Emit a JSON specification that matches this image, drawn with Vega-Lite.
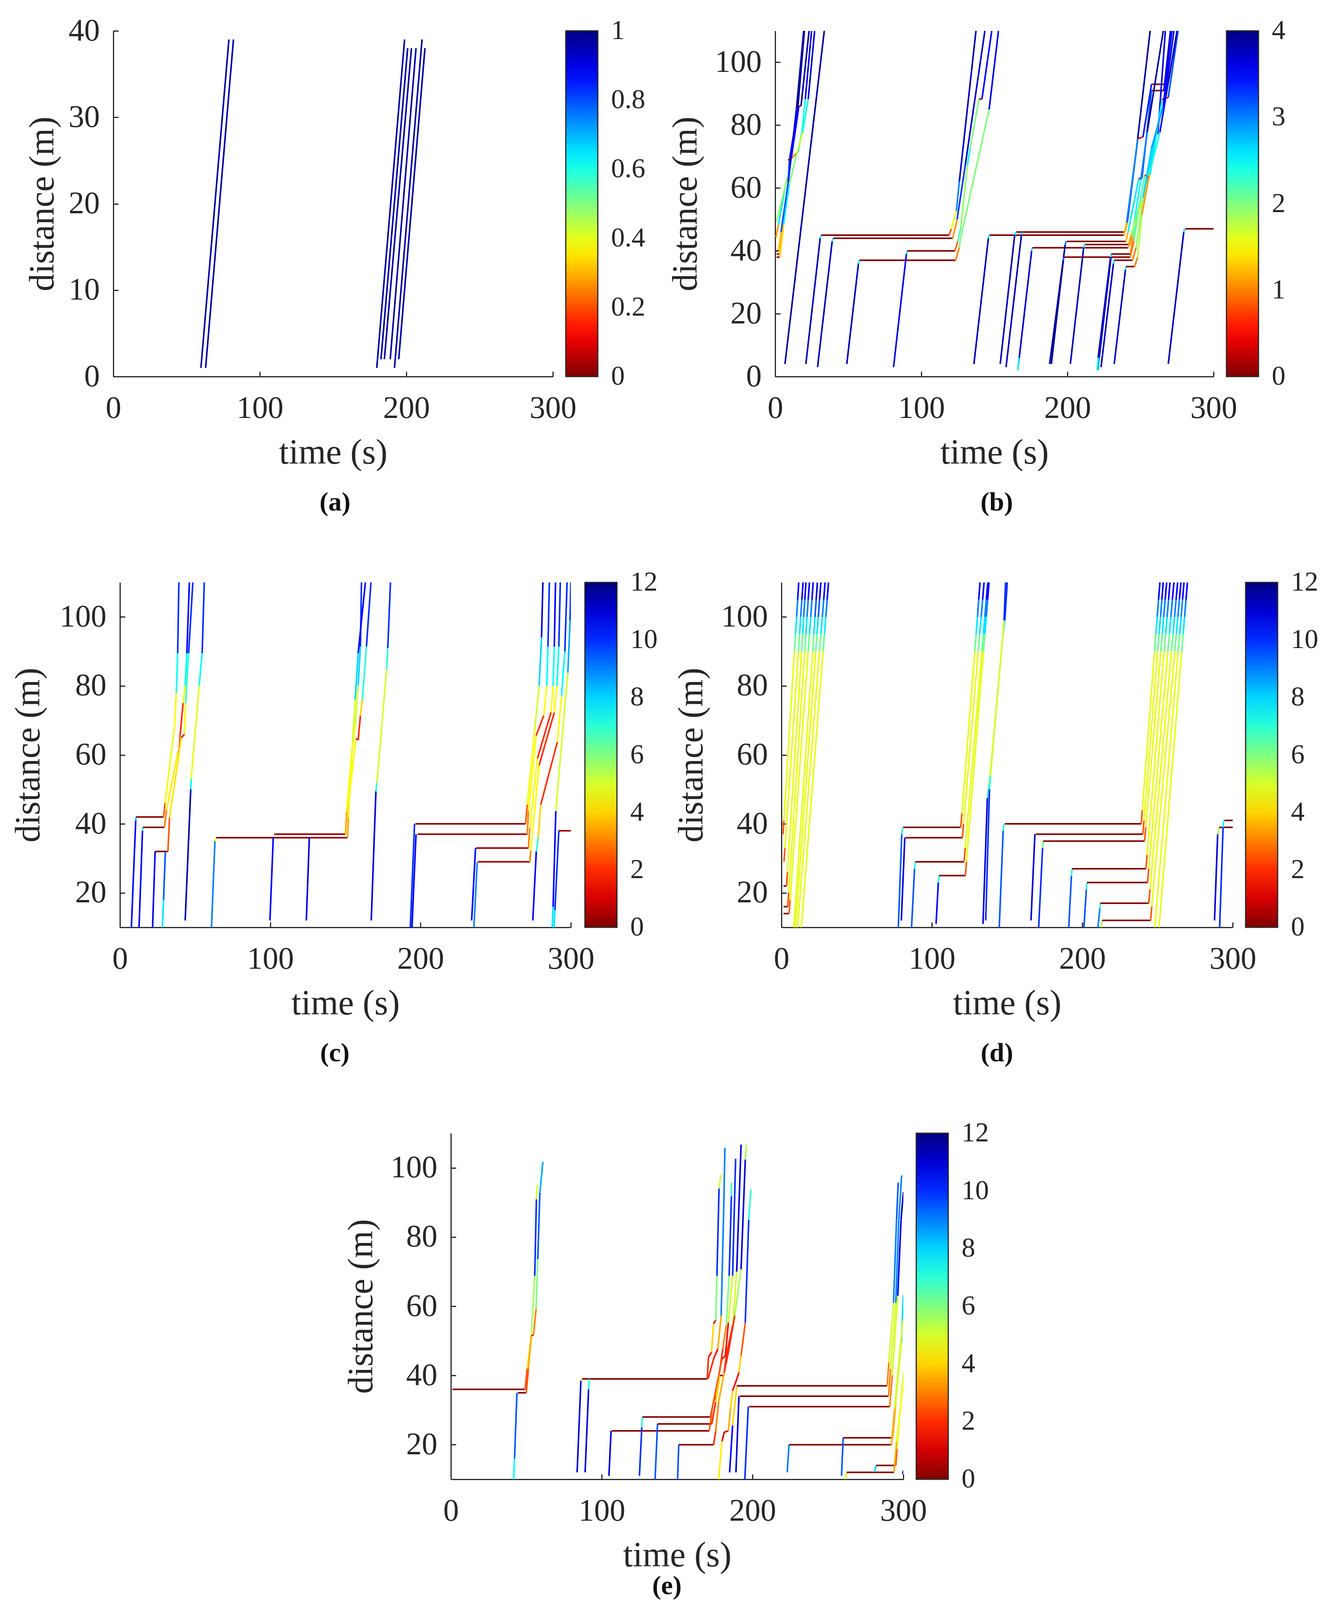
{"$schema":"https://vega.github.io/schema/vega-lite/v6.json","background":"white","padding":{"left":0,"top":39,"right":0,"bottom":0},"spacing":170,"resolve":{"scale":{"color":"independent"},"legend":{"color":"independent"}},
"config":{"view":{"stroke":null},"axis":{"grid":false,"domainColor":"#262626","domainWidth":3,"tickColor":"#262626","tickWidth":3,"tickSize":-13,"labelFont":"Liberation Serif","labelFontSize":80,"labelColor":"#262626","titleFont":"Liberation Serif","titleFontSize":90,"titleFontWeight":"normal","titleColor":"#262626","labelFlush":false,"labelOverlap":false},"title":{"font":"Liberation Serif","fontSize":68,"fontWeight":"bold","color":"#111111","orient":"bottom","anchor":"middle"},"legend":{"labelFont":"Liberation Serif","labelFontSize":70,"labelColor":"#262626","gradientStrokeColor":"#262626","gradientStrokeWidth":3,"gradientThickness":82,"orient":"none","title":null,"labelOverlap":false,"direction":"vertical"}},
"datasets":{
"a":[{"t0":59.8,"d0":1,"t1":78.9,"d1":39,"v":0.97},{"t0":63,"d0":1,"t1":82,"d1":39,"v":0.97},{"t0":179.8,"d0":1,"t1":198.8,"d1":39,"v":0.97},{"t0":182.7,"d0":2,"t1":200.9,"d1":38,"v":0.97},{"t0":185,"d0":2,"t1":203.5,"d1":38,"v":0.97},{"t0":189,"d0":2,"t1":206.6,"d1":38,"v":0.97},{"t0":191.9,"d0":1,"t1":210.7,"d1":39,"v":0.97},{"t0":194.8,"d0":2,"t1":212.7,"d1":38,"v":0.97}],
"b":[{"t0":6.7,"d0":4,"t1":33.6,"d1":110,"v":3.9},
{"t0":0.6,"d0":44.3,"t1":2.3,"d1":48.5,"v":1.1},{"t0":2.3,"d0":48.5,"t1":7.5,"d1":62,"v":2.6},{"t0":7.5,"d0":62,"t1":8.7,"d1":62.6,"v":0.3},{"t0":8.7,"d0":62.6,"t1":9.9,"d1":69.4,"v":3.3},{"t0":9.9,"d0":69.4,"t1":15.4,"d1":85,"v":3.4},{"t0":15.4,"d0":85,"t1":20,"d1":110,"v":3.9},
{"t0":0.9,"d0":49.3,"t1":8.1,"d1":63,"v":1.9},{"t0":8.1,"d0":63,"t1":8.6,"d1":63.1,"v":0.2},{"t0":8.6,"d0":63.1,"t1":11,"d1":69.4,"v":2.6},{"t0":11,"d0":69.4,"t1":16.2,"d1":86,"v":3.5},{"t0":16.2,"d0":86,"t1":17.7,"d1":86.2,"v":0.2},{"t0":17.7,"d0":86.2,"t1":23.2,"d1":110,"v":3.9},
{"t0":1,"d0":39,"t1":2.9,"d1":39,"v":0},{"t0":2.9,"d0":39,"t1":4.6,"d1":46.4,"v":1.4},{"t0":4.6,"d0":46.4,"t1":11,"d1":69.4,"v":2.2},{"t0":11,"d0":69.4,"t1":15.7,"d1":71.5,"v":1},{"t0":15.7,"d0":71.5,"t1":18.3,"d1":77.8,"v":2.6},{"t0":18.3,"d0":77.8,"t1":20.6,"d1":88.3,"v":2.4},{"t0":20.6,"d0":88.3,"t1":24.9,"d1":110,"v":3.6},
{"t0":1,"d0":38,"t1":3.2,"d1":38,"v":0},{"t0":3.2,"d0":38,"t1":5.8,"d1":48.5,"v":1.3},{"t0":5.8,"d0":48.5,"t1":9.6,"d1":61,"v":2.5},{"t0":9.6,"d0":61,"t1":14.8,"d1":71,"v":2},{"t0":14.8,"d0":71,"t1":18.9,"d1":77.8,"v":1.7},{"t0":18.9,"d0":77.8,"t1":22.6,"d1":88.3,"v":2.4},{"t0":22.6,"d0":88.3,"t1":27,"d1":110,"v":3.7},
{"t0":1,"d0":40,"t1":2.4,"d1":40,"v":0},{"t0":2.4,"d0":40,"t1":4,"d1":46,"v":1.2},{"t0":4,"d0":46,"t1":9,"d1":62,"v":3.2},{"t0":9,"d0":62,"t1":14.5,"d1":85,"v":3.6},{"t0":14.5,"d0":85,"t1":19.5,"d1":110,"v":3.9},{"t0":8.7,"d0":69,"t1":10.5,"d1":69,"v":0},
{"t0":21,"d0":4,"t1":30.8,"d1":44,"v":3.8},{"t0":30.8,"d0":44,"t1":31.4,"d1":45,"v":2.5},{"t0":31.4,"d0":45,"t1":119,"d1":45,"v":0},
{"t0":29,"d0":3,"t1":39,"d1":43,"v":3.8},{"t0":39,"d0":43,"t1":39.6,"d1":44,"v":2.5},{"t0":39.6,"d0":44,"t1":121.5,"d1":44,"v":0},
{"t0":49,"d0":4,"t1":57,"d1":36,"v":3.8},{"t0":57,"d0":36,"t1":57.6,"d1":37,"v":2.5},{"t0":57.6,"d0":37,"t1":123.5,"d1":37,"v":0},
{"t0":81,"d0":3,"t1":89.8,"d1":39,"v":3.6},{"t0":89.8,"d0":39,"t1":90.4,"d1":40,"v":2.5},{"t0":90.4,"d0":40,"t1":123,"d1":40,"v":0},
{"t0":119,"d0":45,"t1":120.5,"d1":47,"v":0.8},{"t0":120.5,"d0":47,"t1":124,"d1":52.7,"v":1.6},{"t0":124,"d0":52.7,"t1":126,"d1":62,"v":3},{"t0":126,"d0":62,"t1":137.4,"d1":110,"v":3.8},
{"t0":121.5,"d0":44,"t1":124.5,"d1":50,"v":1.1},{"t0":124.5,"d0":50,"t1":130,"d1":67,"v":3.3},{"t0":130,"d0":67,"t1":143.5,"d1":110,"v":3.7},
{"t0":123,"d0":40,"t1":125,"d1":43,"v":0.9},{"t0":125,"d0":43,"t1":127,"d1":47.4,"v":2.2},{"t0":127,"d0":47.4,"t1":131.6,"d1":67.3,"v":1.9},{"t0":131.6,"d0":67.3,"t1":133.4,"d1":72.6,"v":2.5},{"t0":133.4,"d0":72.6,"t1":139.5,"d1":88.3,"v":2},{"t0":139.5,"d0":88.3,"t1":141.5,"d1":88.3,"v":0.2},{"t0":141.5,"d0":88.3,"t1":148.2,"d1":110,"v":3.5},
{"t0":123.5,"d0":37,"t1":126,"d1":41,"v":1},{"t0":126,"d0":41,"t1":127,"d1":44.3,"v":2},{"t0":127,"d0":44.3,"t1":146.4,"d1":85,"v":2},{"t0":146.4,"d0":85,"t1":152.8,"d1":110,"v":3.6},
{"t0":136,"d0":4,"t1":145.9,"d1":44,"v":3.8},{"t0":145.9,"d0":44,"t1":146.4,"d1":45,"v":2.5},{"t0":146.7,"d0":45,"t1":238.6,"d1":45,"v":0},
{"t0":154,"d0":4,"t1":163.9,"d1":45,"v":3.8},{"t0":163.9,"d0":45,"t1":164.4,"d1":46,"v":2.5},{"t0":165,"d0":46,"t1":239.5,"d1":46,"v":0},
{"t0":158,"d0":3,"t1":168.5,"d1":45,"v":3.8},{"t0":168.5,"d0":45,"t1":169,"d1":46,"v":2.8},
{"t0":166,"d0":2,"t1":175.5,"d1":40,"v":3.7},{"t0":166,"d0":2,"t1":166.8,"d1":6,"v":2.4},{"t0":175.5,"d0":40,"t1":176,"d1":41,"v":2.5},{"t0":176,"d0":41,"t1":241.5,"d1":41,"v":0},
{"t0":187.8,"d0":4,"t1":198.5,"d1":42,"v":3.9},{"t0":198.5,"d0":42,"t1":199,"d1":43,"v":3},{"t0":199.5,"d0":43,"t1":240,"d1":43,"v":0},
{"t0":189,"d0":4,"t1":197.2,"d1":37,"v":3.9},{"t0":197.2,"d0":37,"t1":197.7,"d1":38,"v":3},{"t0":197.7,"d0":38,"t1":243,"d1":38,"v":0},
{"t0":202,"d0":4,"t1":211.1,"d1":41,"v":3.8},{"t0":211.1,"d0":41,"t1":211.6,"d1":42,"v":2.5},{"t0":212,"d0":42,"t1":243,"d1":42,"v":0},
{"t0":220.3,"d0":2,"t1":221,"d1":6,"v":2.3},{"t0":221,"d0":6,"t1":229.5,"d1":38,"v":3.8},{"t0":229.5,"d0":38,"t1":230,"d1":39,"v":2.5},{"t0":230,"d0":39,"t1":243,"d1":39,"v":0},
{"t0":221,"d0":2,"t1":221.8,"d1":6,"v":2.8},{"t0":221.8,"d0":6,"t1":229.8,"d1":38,"v":3.7},
{"t0":223,"d0":3,"t1":231.5,"d1":36,"v":3.8},{"t0":231.5,"d0":36,"t1":232,"d1":37,"v":2.5},{"t0":232,"d0":37,"t1":244.5,"d1":37,"v":0},
{"t0":232,"d0":4,"t1":239.7,"d1":34,"v":3.8},{"t0":239.7,"d0":34,"t1":240,"d1":35,"v":2.5},{"t0":240,"d0":35,"t1":246,"d1":35,"v":0},
{"t0":269,"d0":4,"t1":279.6,"d1":46,"v":3.8},{"t0":279.6,"d0":46,"t1":280.2,"d1":47,"v":2.6},{"t0":280.6,"d0":47,"t1":300,"d1":47,"v":0},
{"t0":239.5,"d0":46,"t1":241,"d1":49,"v":1.2},{"t0":241,"d0":49,"t1":247.3,"d1":72.6,"v":3.2},{"t0":247.3,"d0":72.6,"t1":256.6,"d1":110,"v":3.9},
{"t0":238.6,"d0":45,"t1":240.5,"d1":49,"v":1.2},{"t0":240.5,"d0":49,"t1":248.2,"d1":75.7,"v":3},{"t0":248.2,"d0":75.7,"t1":251.7,"d1":76.2,"v":0.3},{"t0":251.7,"d0":76.2,"t1":257.5,"d1":93,"v":3.4},{"t0":257.5,"d0":93,"t1":266.7,"d1":93,"v":0},{"t0":266.7,"d0":93,"t1":271.5,"d1":110,"v":3.7},
{"t0":240,"d0":43,"t1":241.5,"d1":46,"v":1.2},{"t0":241.5,"d0":46,"t1":248.8,"d1":63,"v":2.6},{"t0":248.8,"d0":63,"t1":251,"d1":63.1,"v":0.3},{"t0":251,"d0":63.1,"t1":257.5,"d1":91,"v":3.2},{"t0":257.5,"d0":91,"t1":266,"d1":91,"v":0},{"t0":266,"d0":91,"t1":270.5,"d1":110,"v":3.7},
{"t0":243,"d0":42,"t1":244.5,"d1":45.5,"v":1.2},{"t0":244.5,"d0":45.5,"t1":250.2,"d1":62.6,"v":2.5},{"t0":250.2,"d0":62.6,"t1":254.6,"d1":77.8,"v":3},{"t0":254.6,"d0":77.8,"t1":265.6,"d1":110,"v":3.9},
{"t0":241.5,"d0":41,"t1":243.5,"d1":45,"v":1.1},{"t0":243.5,"d0":45,"t1":248.8,"d1":53.7,"v":1.8},{"t0":248.8,"d0":53.7,"t1":251,"d1":54.8,"v":0.4},{"t0":251,"d0":54.8,"t1":260.4,"d1":76.8,"v":2.6},{"t0":260.4,"d0":76.8,"t1":261.9,"d1":77.3,"v":0.5},{"t0":261.9,"d0":77.3,"t1":267,"d1":110,"v":3.6},
{"t0":243,"d0":39,"t1":245,"d1":44,"v":1},{"t0":245,"d0":44,"t1":253,"d1":64.2,"v":2.2},{"t0":253,"d0":64.2,"t1":256,"d1":63.1,"v":0.5},{"t0":256,"d0":63.1,"t1":263.3,"d1":84,"v":3},{"t0":263.3,"d0":84,"t1":265.6,"d1":85,"v":0.6},{"t0":265.6,"d0":85,"t1":272.9,"d1":110,"v":3.6},
{"t0":243,"d0":38,"t1":245.5,"d1":43,"v":1},{"t0":245.5,"d0":43,"t1":248.8,"d1":52.7,"v":2},{"t0":248.8,"d0":52.7,"t1":256.6,"d1":64.2,"v":1.6},{"t0":256.6,"d0":64.2,"t1":264.8,"d1":88.3,"v":2.5},{"t0":264.8,"d0":88.3,"t1":269,"d1":88.8,"v":0.4},{"t0":269,"d0":88.8,"t1":275.7,"d1":110,"v":3.2},
{"t0":244.5,"d0":37,"t1":247,"d1":41,"v":1},{"t0":247,"d0":41,"t1":251.7,"d1":56.9,"v":1.9},{"t0":251.7,"d0":56.9,"t1":257.5,"d1":72.6,"v":2.7},{"t0":257.5,"d0":72.6,"t1":265.6,"d1":86.2,"v":2.9},{"t0":265.6,"d0":86.2,"t1":271.4,"d1":110,"v":3.5},
{"t0":246,"d0":35,"t1":248,"d1":38,"v":1},{"t0":248,"d0":38,"t1":251,"d1":51.6,"v":1.8},{"t0":251,"d0":51.6,"t1":256,"d1":64.2,"v":1.1},{"t0":256,"d0":64.2,"t1":263.3,"d1":77.8,"v":2.4},{"t0":263.3,"d0":77.8,"t1":269,"d1":93.5,"v":3.5},{"t0":269,"d0":93.5,"t1":275,"d1":110,"v":3.8}],
"c":[{"t0":7.6,"d0":10,"t1":10.5,"d1":41,"v":10.5},{"t0":10.5,"d0":41,"t1":10.7,"d1":42,"v":8},{"t0":10.7,"d0":42,"t1":29,"d1":42,"v":0},
{"t0":12.7,"d0":10,"t1":15,"d1":38,"v":10.5},{"t0":15,"d0":38,"t1":15.2,"d1":39,"v":7},{"t0":15.2,"d0":39,"t1":29.6,"d1":39,"v":0},
{"t0":21.7,"d0":10,"t1":23.4,"d1":32,"v":10.5},{"t0":23.4,"d0":32,"t1":31.9,"d1":32,"v":0},
{"t0":28.2,"d0":10,"t1":29,"d1":18,"v":7.8},{"t0":29,"d0":18,"t1":30.2,"d1":31.8,"v":9.5},
{"t0":43.4,"d0":12,"t1":47.1,"d1":50,"v":11.5},{"t0":47.1,"d0":50,"t1":47.4,"d1":53,"v":7.5},{"t0":47.4,"d0":53,"t1":52.7,"d1":80,"v":4.8},{"t0":52.7,"d0":80,"t1":54.7,"d1":89.5,"v":7.5},{"t0":54.7,"d0":89.5,"t1":56.1,"d1":110,"v":10},
{"t0":60.9,"d0":10,"t1":63.2,"d1":35,"v":9},{"t0":63.2,"d0":35,"t1":64,"d1":36,"v":4.5},{"t0":64,"d0":36,"t1":151.4,"d1":36,"v":0},
{"t0":99.8,"d0":12,"t1":102,"d1":36,"v":10.5},{"t0":102.6,"d0":37,"t1":150,"d1":37,"v":0.2},{"t0":124,"d0":12,"t1":126,"d1":36,"v":11},
{"t0":167.2,"d0":12,"t1":170.3,"d1":49.4,"v":11},{"t0":170.3,"d0":49.4,"t1":171,"d1":52,"v":7},{"t0":171,"d0":52,"t1":177.4,"d1":84.7,"v":5},{"t0":177.4,"d0":84.7,"t1":178.2,"d1":91,"v":7},{"t0":178.2,"d0":91,"t1":180,"d1":110,"v":10},
{"t0":193.2,"d0":10,"t1":196,"d1":40,"v":10},{"t0":196.6,"d0":40,"t1":269.9,"d1":40,"v":0.2},
{"t0":194.3,"d0":10,"t1":197,"d1":37,"v":10.5},{"t0":198,"d0":37,"t1":271,"d1":37,"v":0.2},
{"t0":234,"d0":12,"t1":236.6,"d1":33,"v":10.5},{"t0":237,"d0":33,"t1":271.8,"d1":33,"v":0.4},
{"t0":235.5,"d0":10,"t1":237.7,"d1":28.8,"v":9},{"t0":238,"d0":29,"t1":272.7,"d1":29,"v":0.5},
{"t0":274.7,"d0":12,"t1":277,"d1":32,"v":10.5},{"t0":277,"d0":32,"t1":278.3,"d1":36,"v":7},{"t0":278.3,"d0":36,"t1":280,"d1":45.6,"v":4},{"t0":280,"d0":45.6,"t1":291,"d1":63.7,"v":2},{"t0":291,"d0":63.7,"t1":293.8,"d1":77,"v":4.5},{"t0":293.8,"d0":77,"t1":296,"d1":90,"v":7.5},{"t0":296,"d0":90,"t1":297.5,"d1":110,"v":10},
{"t0":287.6,"d0":10,"t1":288.2,"d1":16,"v":7.8},{"t0":288.2,"d0":16,"t1":290,"d1":43.7,"v":10.5},{"t0":290,"d0":43.7,"t1":292.4,"d1":56,"v":5},{"t0":292.4,"d0":56,"t1":298,"d1":83.8,"v":5},{"t0":298,"d0":83.8,"t1":299.5,"d1":99,"v":8.5},{"t0":299.5,"d0":99,"t1":300,"d1":110,"v":10},
{"t0":288.8,"d0":10,"t1":289.4,"d1":15,"v":7.8},{"t0":289.4,"d0":15,"t1":292,"d1":38,"v":10},{"t0":292,"d0":38,"t1":300,"d1":38,"v":0.4},
{"t0":29,"d0":42,"t1":30,"d1":46,"v":2.5},{"t0":30,"d0":46,"t1":36.4,"d1":68.5,"v":4.6},{"t0":36.4,"d0":68.5,"t1":37.5,"d1":78,"v":4.5},{"t0":37.5,"d0":78,"t1":38.4,"d1":89.5,"v":7.5},{"t0":38.4,"d0":89.5,"t1":39.2,"d1":110,"v":10},
{"t0":29.6,"d0":39,"t1":31,"d1":44,"v":3},{"t0":31,"d0":44,"t1":38.6,"d1":60.9,"v":4.3},{"t0":38.6,"d0":60.9,"t1":39.4,"d1":60.9,"v":0.5},{"t0":39.4,"d0":60.9,"t1":40,"d1":65.6,"v":2.5},{"t0":40,"d0":65.6,"t1":42,"d1":75,"v":2},{"t0":42,"d0":75,"t1":43.4,"d1":80,"v":4.5},{"t0":43.4,"d0":80,"t1":44.5,"d1":89.5,"v":7.5},{"t0":44.5,"d0":89.5,"t1":46.2,"d1":110,"v":10.5},
{"t0":31.9,"d0":32,"t1":33,"d1":41.8,"v":2.5},{"t0":33,"d0":41.8,"t1":40.9,"d1":65,"v":4.2},{"t0":40.9,"d0":65,"t1":42.9,"d1":66,"v":1.5},{"t0":42.9,"d0":66,"t1":43.7,"d1":75,"v":4.5},{"t0":43.7,"d0":75,"t1":45.7,"d1":89.5,"v":7},{"t0":45.7,"d0":89.5,"t1":48.5,"d1":110,"v":10},
{"t0":151.4,"d0":36,"t1":152.2,"d1":46.5,"v":3.5},{"t0":152.2,"d0":46.5,"t1":157,"d1":64.7,"v":4.6},{"t0":157,"d0":64.7,"t1":158.5,"d1":64.3,"v":1.5},{"t0":158.5,"d0":64.3,"t1":160,"d1":71.4,"v":2},{"t0":160,"d0":71.4,"t1":161.3,"d1":76,"v":4},{"t0":161.3,"d0":76,"t1":164,"d1":91.4,"v":7},{"t0":164,"d0":91.4,"t1":167,"d1":110,"v":10},
{"t0":150,"d0":37,"t1":150.9,"d1":43.7,"v":3.5},{"t0":150.9,"d0":43.7,"t1":154.3,"d1":60.9,"v":4.6},{"t0":154.3,"d0":60.9,"t1":156.5,"d1":68.5,"v":4.5},{"t0":156.5,"d0":68.5,"t1":158.5,"d1":80,"v":5},{"t0":158.5,"d0":80,"t1":160,"d1":91.4,"v":8},{"t0":160,"d0":91.4,"t1":160.7,"d1":110,"v":10},
{"t0":151.4,"d0":36,"t1":152,"d1":41.8,"v":3.5},{"t0":152,"d0":41.8,"t1":154.8,"d1":63.7,"v":4.6},{"t0":154.8,"d0":63.7,"t1":156.5,"d1":76,"v":5},{"t0":156.5,"d0":76,"t1":158.5,"d1":89.5,"v":8},{"t0":158.5,"d0":89.5,"t1":163.3,"d1":110,"v":10.5},
{"t0":269.9,"d0":40,"t1":271,"d1":45.6,"v":2.5},{"t0":271,"d0":45.6,"t1":276,"d1":67.5,"v":4.6},{"t0":276,"d0":67.5,"t1":278.9,"d1":80,"v":5},{"t0":278.9,"d0":80,"t1":280.5,"d1":94,"v":8},{"t0":280.5,"d0":94,"t1":281.4,"d1":110,"v":11},
{"t0":271,"d0":37,"t1":271.8,"d1":43.7,"v":3},{"t0":271.8,"d0":43.7,"t1":276.9,"d1":65.6,"v":4.6},{"t0":276.9,"d0":65.6,"t1":282,"d1":71.4,"v":2},{"t0":282,"d0":71.4,"t1":284,"d1":80,"v":4.5},{"t0":284,"d0":80,"t1":284.8,"d1":91.4,"v":7.5},{"t0":284.8,"d0":91.4,"t1":285.7,"d1":110,"v":10},
{"t0":271.8,"d0":33,"t1":272.7,"d1":38.9,"v":3},{"t0":272.7,"d0":38.9,"t1":277.8,"d1":59,"v":4.5},{"t0":277.8,"d0":59,"t1":286.8,"d1":72.3,"v":2},{"t0":286.8,"d0":72.3,"t1":288.2,"d1":80,"v":4.5},{"t0":288.2,"d0":80,"t1":289,"d1":91.4,"v":7.5},{"t0":289,"d0":91.4,"t1":289.8,"d1":110,"v":10.5},
{"t0":272.7,"d0":29,"t1":273.3,"d1":32.2,"v":3},{"t0":273.3,"d0":32.2,"t1":278.9,"d1":57,"v":4.5},{"t0":278.9,"d0":57,"t1":289,"d1":72.3,"v":2},{"t0":289,"d0":72.3,"t1":290.8,"d1":80,"v":4.5},{"t0":290.8,"d0":80,"t1":292,"d1":91.4,"v":7.5},{"t0":292,"d0":91.4,"t1":293,"d1":110,"v":10}],
"d":[{"t0":1.1,"d0":37,"t1":1.6,"d1":41,"v":2.5},{"t0":1.6,"d0":41,"t1":8.6,"d1":90,"v":4.8},{"t0":8.6,"d0":90,"t1":9.35,"d1":95,"v":6.2},{"t0":9.35,"d0":95,"t1":10.1,"d1":100,"v":7.8},{"t0":10.1,"d0":100,"t1":10.8,"d1":105,"v":9},{"t0":10.8,"d0":105,"t1":11.5,"d1":110,"v":10.5},
{"t0":1.7,"d0":29,"t1":2.3,"d1":33,"v":2.5},{"t0":2.3,"d0":33,"t1":11.3,"d1":90,"v":4.8},{"t0":11.3,"d0":90,"t1":12.05,"d1":95,"v":6.2},{"t0":12.05,"d0":95,"t1":12.8,"d1":100,"v":7.8},{"t0":12.8,"d0":100,"t1":13.6,"d1":105,"v":9},{"t0":13.6,"d0":105,"t1":14.4,"d1":110,"v":10.5},
{"t0":1.4,"d0":22,"t1":3.4,"d1":22,"v":0},{"t0":3.4,"d0":22,"t1":4,"d1":26,"v":2.5},{"t0":4,"d0":26,"t1":13.4,"d1":90,"v":4.8},{"t0":13.4,"d0":90,"t1":14.1,"d1":95,"v":6.2},{"t0":14.1,"d0":95,"t1":14.8,"d1":100,"v":7.8},{"t0":14.8,"d0":100,"t1":15.55,"d1":105,"v":9},{"t0":15.55,"d0":105,"t1":16.3,"d1":110,"v":10.5},
{"t0":1.4,"d0":16,"t1":4.2,"d1":16,"v":0},{"t0":4.2,"d0":16,"t1":4.8,"d1":20,"v":2.5},{"t0":4.8,"d0":20,"t1":15.5,"d1":90,"v":4.8},{"t0":15.5,"d0":90,"t1":16.25,"d1":95,"v":6.2},{"t0":16.25,"d0":95,"t1":17,"d1":100,"v":7.8},{"t0":17,"d0":100,"t1":17.8,"d1":105,"v":9},{"t0":17.8,"d0":105,"t1":18.6,"d1":110,"v":10.5},
{"t0":1.4,"d0":14,"t1":5.1,"d1":14,"v":0},{"t0":5.1,"d0":14,"t1":5.8,"d1":18,"v":2.5},{"t0":5.8,"d0":18,"t1":17.8,"d1":90,"v":4.8},{"t0":17.8,"d0":90,"t1":18.65,"d1":95,"v":6.2},{"t0":18.65,"d0":95,"t1":19.5,"d1":100,"v":7.8},{"t0":19.5,"d0":100,"t1":20.3,"d1":105,"v":9},{"t0":20.3,"d0":105,"t1":21.1,"d1":110,"v":10.5},
{"t0":8.2,"d0":10,"t1":20.8,"d1":90,"v":4.8},{"t0":20.8,"d0":90,"t1":21.55,"d1":95,"v":6.2},{"t0":21.55,"d0":95,"t1":22.3,"d1":100,"v":7.8},{"t0":22.3,"d0":100,"t1":23.1,"d1":105,"v":9.5},{"t0":23.1,"d0":105,"t1":23.9,"d1":110,"v":11},
{"t0":9.3,"d0":10,"t1":22.8,"d1":90,"v":4.8},{"t0":22.8,"d0":90,"t1":23.65,"d1":95,"v":6.2},{"t0":23.65,"d0":95,"t1":24.5,"d1":100,"v":7.8},{"t0":24.5,"d0":100,"t1":25.35,"d1":105,"v":9.5},{"t0":25.35,"d0":105,"t1":26.2,"d1":110,"v":11},
{"t0":10.7,"d0":10,"t1":25.3,"d1":90,"v":4.8},{"t0":25.3,"d0":90,"t1":26.25,"d1":95,"v":6.2},{"t0":26.25,"d0":95,"t1":27.2,"d1":100,"v":7.8},{"t0":27.2,"d0":100,"t1":28.1,"d1":105,"v":9},{"t0":28.1,"d0":105,"t1":29,"d1":110,"v":10.5},
{"t0":13.2,"d0":10,"t1":27.7,"d1":90,"v":4.8},{"t0":27.7,"d0":90,"t1":28.6,"d1":95,"v":6.2},{"t0":28.6,"d0":95,"t1":29.5,"d1":100,"v":7.8},{"t0":29.5,"d0":100,"t1":30.4,"d1":105,"v":9},{"t0":30.4,"d0":105,"t1":31.3,"d1":110,"v":10.5},
{"t0":77.7,"d0":10,"t1":80,"d1":37,"v":9.5},{"t0":80,"d0":37,"t1":80.6,"d1":39,"v":7},{"t0":81,"d0":39,"t1":119.2,"d1":39,"v":0},
{"t0":79.7,"d0":12,"t1":82,"d1":36,"v":11},{"t0":82.5,"d0":36,"t1":120.3,"d1":36,"v":0},
{"t0":86.5,"d0":10,"t1":88.5,"d1":27,"v":9.5},{"t0":88.5,"d0":27,"t1":89,"d1":29,"v":7},{"t0":89,"d0":29,"t1":121.4,"d1":29,"v":0},
{"t0":102.8,"d0":11,"t1":104.3,"d1":23,"v":10.5},{"t0":104.3,"d0":23,"t1":104.8,"d1":25,"v":7},{"t0":104.8,"d0":25,"t1":122.3,"d1":25,"v":0},
{"t0":134,"d0":11,"t1":136.9,"d1":47.5,"v":11},{"t0":136.9,"d0":47.5,"t1":138.3,"d1":52,"v":7},{"t0":138.3,"d0":52,"t1":147.3,"d1":95,"v":5.2},{"t0":147.3,"d0":95,"t1":148.5,"d1":99,"v":8},{"t0":148.5,"d0":99,"t1":150.1,"d1":110,"v":10},
{"t0":135.8,"d0":12,"t1":138.3,"d1":50,"v":10},{"t0":138.3,"d0":50,"t1":139,"d1":54,"v":7},{"t0":139,"d0":54,"t1":148,"d1":99,"v":5},{"t0":148,"d0":99,"t1":149,"d1":110,"v":10},
{"t0":144.8,"d0":10,"t1":147.4,"d1":38,"v":9.5},{"t0":147.4,"d0":38,"t1":147.9,"d1":40,"v":7},{"t0":148.5,"d0":40,"t1":239.2,"d1":40,"v":0},
{"t0":165.9,"d0":12,"t1":168.5,"d1":37,"v":11},{"t0":169,"d0":37,"t1":240.3,"d1":37,"v":0},
{"t0":171,"d0":10,"t1":173.6,"d1":33,"v":10},{"t0":173.6,"d0":33,"t1":174,"d1":35,"v":6},{"t0":174,"d0":35,"t1":241.4,"d1":35,"v":0},
{"t0":191,"d0":10,"t1":192.8,"d1":25,"v":9.5},{"t0":192.8,"d0":25,"t1":193.2,"d1":27,"v":7},{"t0":193.2,"d0":27,"t1":242.3,"d1":27,"v":0},
{"t0":201.1,"d0":10,"t1":202.7,"d1":21,"v":9.5},{"t0":202.7,"d0":21,"t1":203.1,"d1":23,"v":7},{"t0":203.1,"d0":23,"t1":243.4,"d1":23,"v":0},
{"t0":210.4,"d0":10,"t1":211.7,"d1":15.5,"v":9},{"t0":211.7,"d0":15.5,"t1":212,"d1":17,"v":7},{"t0":212,"d0":17,"t1":244.2,"d1":17,"v":0},
{"t0":212.7,"d0":10,"t1":213.2,"d1":12,"v":5.5},{"t0":213.2,"d0":12,"t1":245.4,"d1":12,"v":0},
{"t0":287.9,"d0":12,"t1":290,"d1":37,"v":11},{"t0":290,"d0":37,"t1":291,"d1":39,"v":5.5},{"t0":291,"d0":39,"t1":300,"d1":39,"v":0},
{"t0":291.3,"d0":10,"t1":293.6,"d1":39,"v":10},{"t0":293.6,"d0":39,"t1":294,"d1":41,"v":7.5},{"t0":294.5,"d0":41,"t1":300,"d1":41,"v":0},
{"t0":119.2,"d0":39,"t1":120,"d1":43,"v":2.5},{"t0":120,"d0":43,"t1":128.5,"d1":90,"v":4.8},{"t0":128.5,"d0":90,"t1":129.4,"d1":95,"v":6.2},{"t0":129.4,"d0":95,"t1":130.3,"d1":100,"v":7.8},{"t0":130.3,"d0":100,"t1":131.15,"d1":105,"v":9},{"t0":131.15,"d0":105,"t1":132,"d1":110,"v":10.5},
{"t0":120.3,"d0":36,"t1":121.1,"d1":40,"v":2.5},{"t0":121.1,"d0":40,"t1":130.8,"d1":90,"v":4.8},{"t0":130.8,"d0":90,"t1":131.8,"d1":95,"v":6.2},{"t0":131.8,"d0":95,"t1":132.8,"d1":100,"v":7.8},{"t0":132.8,"d0":100,"t1":133.75,"d1":105,"v":9},{"t0":133.75,"d0":105,"t1":134.7,"d1":110,"v":10.5},
{"t0":121.4,"d0":29,"t1":122.2,"d1":33,"v":2.5},{"t0":122.2,"d0":33,"t1":133.3,"d1":90,"v":4.8},{"t0":133.3,"d0":90,"t1":134.25,"d1":95,"v":6.2},{"t0":134.25,"d0":95,"t1":135.2,"d1":100,"v":7.8},{"t0":135.2,"d0":100,"t1":136.2,"d1":105,"v":9},{"t0":136.2,"d0":105,"t1":137.2,"d1":110,"v":10.5},
{"t0":122.3,"d0":25,"t1":123,"d1":29,"v":2.5},{"t0":123,"d0":29,"t1":134.3,"d1":90,"v":4.8},{"t0":134.3,"d0":90,"t1":135.25,"d1":95,"v":6.2},{"t0":135.25,"d0":95,"t1":136.2,"d1":100,"v":7.8},{"t0":136.2,"d0":100,"t1":137.1,"d1":105,"v":9},{"t0":137.1,"d0":105,"t1":138,"d1":110,"v":10.5},
{"t0":239.2,"d0":40,"t1":239.9,"d1":44,"v":2.5},{"t0":239.9,"d0":44,"t1":248.05,"d1":90,"v":4.8},{"t0":248.05,"d0":90,"t1":248.9,"d1":95,"v":6.2},{"t0":248.9,"d0":95,"t1":249.8,"d1":100,"v":7.8},{"t0":249.8,"d0":100,"t1":250.7,"d1":105,"v":9},{"t0":250.7,"d0":105,"t1":251.6,"d1":110,"v":10.5},
{"t0":240.3,"d0":37,"t1":241,"d1":41,"v":2.5},{"t0":241,"d0":41,"t1":250.1,"d1":90,"v":4.8},{"t0":250.1,"d0":90,"t1":251.05,"d1":95,"v":6.2},{"t0":251.05,"d0":95,"t1":252,"d1":100,"v":7.8},{"t0":252,"d0":100,"t1":252.9,"d1":105,"v":9},{"t0":252.9,"d0":105,"t1":253.8,"d1":110,"v":10.5},
{"t0":241.4,"d0":35,"t1":242.2,"d1":39,"v":2.5},{"t0":242.2,"d0":39,"t1":252.2,"d1":90,"v":4.8},{"t0":252.2,"d0":90,"t1":253.15,"d1":95,"v":6.2},{"t0":253.15,"d0":95,"t1":254.1,"d1":100,"v":7.8},{"t0":254.1,"d0":100,"t1":255.1,"d1":105,"v":9},{"t0":255.1,"d0":105,"t1":256.1,"d1":110,"v":10.5},
{"t0":242.3,"d0":27,"t1":243.1,"d1":31,"v":2.5},{"t0":243.1,"d0":31,"t1":254.4,"d1":90,"v":4.8},{"t0":254.4,"d0":90,"t1":255.4,"d1":95,"v":6.2},{"t0":255.4,"d0":95,"t1":256.4,"d1":100,"v":7.8},{"t0":256.4,"d0":100,"t1":257.35,"d1":105,"v":9},{"t0":257.35,"d0":105,"t1":258.3,"d1":110,"v":10.5},
{"t0":243.4,"d0":23,"t1":244.2,"d1":27,"v":2.5},{"t0":244.2,"d0":27,"t1":256.9,"d1":90,"v":4.8},{"t0":256.9,"d0":90,"t1":257.9,"d1":95,"v":6.2},{"t0":257.9,"d0":95,"t1":258.9,"d1":100,"v":7.8},{"t0":258.9,"d0":100,"t1":259.9,"d1":105,"v":9},{"t0":259.9,"d0":105,"t1":260.9,"d1":110,"v":10.5},
{"t0":244.2,"d0":17,"t1":245,"d1":21,"v":2.5},{"t0":245,"d0":21,"t1":259.3,"d1":90,"v":4.8},{"t0":259.3,"d0":90,"t1":260.3,"d1":95,"v":6.2},{"t0":260.3,"d0":95,"t1":261.3,"d1":100,"v":7.8},{"t0":261.3,"d0":100,"t1":262.35,"d1":105,"v":9},{"t0":262.35,"d0":105,"t1":263.4,"d1":110,"v":10.5},
{"t0":245.4,"d0":12,"t1":246.2,"d1":16,"v":2.5},{"t0":246.2,"d0":16,"t1":261.5,"d1":90,"v":4.8},{"t0":261.5,"d0":90,"t1":262.5,"d1":95,"v":6.2},{"t0":262.5,"d0":95,"t1":263.5,"d1":100,"v":7.8},{"t0":263.5,"d0":100,"t1":264.55,"d1":105,"v":9},{"t0":264.55,"d0":105,"t1":265.6,"d1":110,"v":10.5},
{"t0":248.2,"d0":10,"t1":263.7,"d1":90,"v":4.8},{"t0":263.7,"d0":90,"t1":264.7,"d1":95,"v":6.2},{"t0":264.7,"d0":95,"t1":265.7,"d1":100,"v":7.8},{"t0":265.7,"d0":100,"t1":266.65,"d1":105,"v":9},{"t0":266.65,"d0":105,"t1":267.6,"d1":110,"v":10.5},
{"t0":251,"d0":10,"t1":266.1,"d1":90,"v":4.8},{"t0":266.1,"d0":90,"t1":267.05,"d1":95,"v":6.2},{"t0":267.05,"d0":95,"t1":268,"d1":100,"v":7.8},{"t0":268,"d0":100,"t1":268.95,"d1":105,"v":9},{"t0":268.95,"d0":105,"t1":269.9,"d1":110,"v":10.5}],
"e":[{"t0":1,"d0":36,"t1":49.2,"d1":36,"v":0},{"t0":41.6,"d0":10,"t1":42.2,"d1":16,"v":7.5},{"t0":42.2,"d0":16,"t1":43.8,"d1":35,"v":9.5},{"t0":44.4,"d0":35,"t1":50,"d1":35,"v":0},
{"t0":49.2,"d0":36,"t1":50.6,"d1":42,"v":2.5},{"t0":50.6,"d0":42,"t1":53.4,"d1":52,"v":4.2},{"t0":53.4,"d0":52,"t1":55.6,"d1":68.8,"v":5.5},{"t0":55.6,"d0":68.8,"t1":56.7,"d1":90.9,"v":10},{"t0":56.7,"d0":90.9,"t1":57.3,"d1":95,"v":5},
{"t0":50,"d0":35,"t1":51.4,"d1":42,"v":2.5},{"t0":51.4,"d0":42,"t1":53.4,"d1":51.5,"v":3.5},{"t0":53.4,"d0":51.5,"t1":54.8,"d1":51.7,"v":0.8},{"t0":54.8,"d0":51.7,"t1":56.5,"d1":59.2,"v":3},{"t0":56.5,"d0":59.2,"t1":57.6,"d1":73.6,"v":6},{"t0":57.6,"d0":73.6,"t1":59,"d1":92.8,"v":9.5},{"t0":59,"d0":92.8,"t1":61,"d1":101.7,"v":8.5},
{"t0":83.7,"d0":12,"t1":86.2,"d1":38.5,"v":11},{"t0":86.2,"d0":38.5,"t1":87,"d1":39,"v":5},{"t0":87,"d0":39,"t1":170,"d1":39,"v":0},
{"t0":89,"d0":12,"t1":91.3,"d1":36,"v":11},{"t0":91.3,"d0":36,"t1":91.8,"d1":39,"v":7},
{"t0":104.8,"d0":11,"t1":106.2,"d1":24,"v":11},{"t0":106.7,"d0":24,"t1":171.3,"d1":24,"v":0},
{"t0":125,"d0":11,"t1":126.6,"d1":25,"v":10},{"t0":126.6,"d0":25,"t1":127,"d1":28,"v":7},{"t0":127,"d0":28,"t1":171.9,"d1":28,"v":0},
{"t0":135.4,"d0":10,"t1":137,"d1":26,"v":9.5},{"t0":137,"d0":26,"t1":173,"d1":26,"v":0},
{"t0":150.3,"d0":10,"t1":151.1,"d1":20,"v":9.5},{"t0":151.1,"d0":20,"t1":174.2,"d1":20,"v":0},
{"t0":177.5,"d0":10,"t1":179.8,"d1":21,"v":4.3},
{"t0":184.8,"d0":12,"t1":186.8,"d1":25.6,"v":10.5},{"t0":186.8,"d0":25.6,"t1":189.6,"d1":37,"v":4},{"t0":189.6,"d0":37,"t1":289.3,"d1":37,"v":0},
{"t0":189,"d0":12,"t1":191,"d1":34,"v":11},{"t0":191.6,"d0":34,"t1":290.2,"d1":34,"v":0},
{"t0":194.9,"d0":10,"t1":197.2,"d1":31,"v":10},{"t0":197.8,"d0":31,"t1":291,"d1":31,"v":0},
{"t0":223,"d0":12,"t1":224.2,"d1":20,"v":9},{"t0":224.2,"d0":20,"t1":292.1,"d1":20,"v":0},
{"t0":259,"d0":11,"t1":260.1,"d1":22,"v":9.5},{"t0":260.1,"d0":22,"t1":293,"d1":22,"v":0},
{"t0":261.5,"d0":10,"t1":262.4,"d1":12,"v":5},{"t0":262.4,"d0":12,"t1":293.8,"d1":12,"v":0},
{"t0":280.9,"d0":12,"t1":282,"d1":14,"v":8},{"t0":282,"d0":14,"t1":295,"d1":14,"v":0},{"t0":299.5,"d0":11.5,"t1":300,"d1":12.5,"v":10},
{"t0":170,"d0":39,"t1":170.8,"d1":45.3,"v":2},{"t0":170.8,"d0":45.3,"t1":172.8,"d1":46.7,"v":1.5},{"t0":172.8,"d0":46.7,"t1":174.2,"d1":55,"v":4},{"t0":174.2,"d0":55,"t1":175.6,"d1":56,"v":1},{"t0":175.6,"d0":56,"t1":176.4,"d1":68.8,"v":6},{"t0":176.4,"d0":68.8,"t1":177.8,"d1":94,"v":10},{"t0":177.8,"d0":94,"t1":179,"d1":98,"v":5},
{"t0":170.5,"d0":39,"t1":174.2,"d1":44.8,"v":2},{"t0":174.2,"d0":44.8,"t1":177,"d1":47.7,"v":1.5},{"t0":177,"d0":47.7,"t1":179.2,"d1":57.3,"v":3.5},{"t0":179.2,"d0":57.3,"t1":180.9,"d1":88,"v":9},{"t0":180.9,"d0":88,"t1":181.7,"d1":105.8,"v":9},
{"t0":171.9,"d0":28,"t1":174.2,"d1":32.3,"v":2.5},{"t0":174.2,"d0":32.3,"t1":175.6,"d1":34.2,"v":2},{"t0":175.6,"d0":34.2,"t1":178.4,"d1":41.9,"v":4},{"t0":178.4,"d0":41.9,"t1":180.3,"d1":47.7,"v":2},{"t0":180.3,"d0":47.7,"t1":182.6,"d1":54.4,"v":3},{"t0":182.6,"d0":54.4,"t1":184.5,"d1":68.8,"v":6},{"t0":184.5,"d0":68.8,"t1":186,"d1":91.8,"v":10},{"t0":186,"d0":91.8,"t1":186,"d1":95.7,"v":7},
{"t0":171.3,"d0":24,"t1":173.6,"d1":31.3,"v":2.5},{"t0":173.6,"d0":31.3,"t1":179.8,"d1":44.8,"v":2.5},{"t0":179.8,"d0":44.8,"t1":182,"d1":45.7,"v":1},{"t0":182,"d0":45.7,"t1":184,"d1":55.3,"v":1.5},{"t0":184,"d0":55.3,"t1":186.8,"d1":68.8,"v":5},{"t0":186.8,"d0":68.8,"t1":188.8,"d1":102.6,"v":10},
{"t0":173,"d0":26,"t1":175.6,"d1":32.3,"v":2},{"t0":175.6,"d0":32.3,"t1":178.4,"d1":40,"v":4},{"t0":178.4,"d0":40,"t1":181,"d1":40,"v":0.6},{"t0":181,"d0":40,"t1":182.6,"d1":45.7,"v":2},{"t0":182.6,"d0":45.7,"t1":186.8,"d1":54.4,"v":2},{"t0":186.8,"d0":54.4,"t1":189.5,"d1":70,"v":5},{"t0":189.5,"d0":70,"t1":192.4,"d1":106.7,"v":11},
{"t0":174.2,"d0":20,"t1":175.6,"d1":24,"v":2},{"t0":175.6,"d0":24,"t1":177.5,"d1":32.3,"v":3},{"t0":177.5,"d0":32.3,"t1":181.2,"d1":40.9,"v":3.5},{"t0":181.2,"d0":40.9,"t1":184,"d1":46.7,"v":2},{"t0":184,"d0":46.7,"t1":188.2,"d1":57.3,"v":2},{"t0":188.2,"d0":57.3,"t1":192.4,"d1":70.7,"v":5.5},{"t0":192.4,"d0":70.7,"t1":195.2,"d1":102.4,"v":11},{"t0":195.2,"d0":102.4,"t1":196,"d1":106.7,"v":5.5},
{"t0":179.8,"d0":21,"t1":181.2,"d1":23.6,"v":1},{"t0":181.2,"d0":23.6,"t1":184,"d1":24,"v":1},{"t0":184,"d0":24,"t1":185.4,"d1":30.4,"v":3.5},{"t0":185.4,"d0":30.4,"t1":186.8,"d1":35.6,"v":4},{"t0":186.8,"d0":35.6,"t1":189.6,"d1":39,"v":1.5},{"t0":189.6,"d0":39,"t1":191,"d1":40.9,"v":1.5},{"t0":191,"d0":40.9,"t1":192.4,"d1":45.7,"v":4},{"t0":192.4,"d0":45.7,"t1":195.2,"d1":55.3,"v":2.5},{"t0":195.2,"d0":55.3,"t1":197.5,"d1":85,"v":10},{"t0":197.5,"d0":85,"t1":198.9,"d1":93.8,"v":7},
{"t0":289.3,"d0":37,"t1":290.4,"d1":43.8,"v":3},{"t0":290.4,"d0":43.8,"t1":293.5,"d1":61,"v":5},{"t0":293.5,"d0":61,"t1":295.5,"d1":85,"v":9},{"t0":295.5,"d0":85,"t1":296.6,"d1":95.7,"v":9.5},
{"t0":290.2,"d0":34,"t1":291.6,"d1":41.9,"v":3},{"t0":291.6,"d0":41.9,"t1":295,"d1":61,"v":5},{"t0":295,"d0":61,"t1":297,"d1":85,"v":9},{"t0":297,"d0":85,"t1":298.9,"d1":97.8,"v":9},
{"t0":291,"d0":31,"t1":292.7,"d1":40,"v":3},{"t0":292.7,"d0":40,"t1":296.3,"d1":63,"v":5},{"t0":296.3,"d0":63,"t1":298.5,"d1":85,"v":10.5},{"t0":298.5,"d0":85,"t1":300,"d1":93,"v":11.5},
{"t0":293,"d0":22,"t1":295,"d1":32.3,"v":3.5},{"t0":295,"d0":32.3,"t1":298.7,"d1":49.6,"v":5},{"t0":298.7,"d0":49.6,"t1":300,"d1":63.2,"v":8},
{"t0":292.1,"d0":20,"t1":294.2,"d1":30.4,"v":3.5},{"t0":294.2,"d0":30.4,"t1":297.8,"d1":47.7,"v":5},{"t0":297.8,"d0":47.7,"t1":299.7,"d1":55.9,"v":5},
{"t0":295,"d0":14,"t1":295.8,"d1":18.8,"v":2.5},{"t0":295.8,"d0":18.8,"t1":300,"d1":41,"v":5},
{"t0":293.8,"d0":12,"t1":295.5,"d1":20.8,"v":3.5},{"t0":295.5,"d0":20.8,"t1":300,"d1":38,"v":4.5}]},
"vconcat":[
{"hconcat":[
{"width":290,"height":885,"data":{"values":[]},"mark":"rule","encoding":{}},
{"width":1125,"height":885,"title":{"text":"(a)","offset":49,"dx":5},"data":{"name":"a"},"mark":{"type":"rule","strokeWidth":4,"clip":true},"encoding":{"x":{"field":"t0","type":"quantitative","scale":{"domain":[0,300],"nice":false},"axis":{"title":"time (s)","values":[0,100,200,300],"labelPadding":55,"titlePadding":30}},"x2":{"field":"t1"},"y":{"field":"d0","type":"quantitative","scale":{"domain":[0,40],"nice":false},"axis":{"title":"distance (m)","values":[0,10,20,30,40],"labelPadding":48,"titlePadding":20}},"y2":{"field":"d1"},"color":{"field":"v","type":"quantitative","scale":{"domain":[0,0.125,0.375,0.625,0.875,1],"range":["#800000","#ff0000","#ffff00","#00ffff","#0000ff","#000080"],"interpolate":"rgb"},"legend":{"legendX":1158,"legendY":0,"gradientLength":885,"values":[0,0.2,0.4,0.6,0.8,1],"format":"~g","labelOffset":34,"encoding":{"labels":{"baseline":{"value":"middle"}}}}}}},
{"width":569,"height":885,"data":{"values":[]},"mark":"rule","encoding":{}},
{"width":1122,"height":885,"title":{"text":"(b)","offset":49,"dx":6},"data":{"name":"b"},"mark":{"type":"rule","strokeWidth":4,"clip":true},"encoding":{"x":{"field":"t0","type":"quantitative","scale":{"domain":[0,300],"nice":false},"axis":{"title":"time (s)","values":[0,100,200,300],"labelPadding":55,"titlePadding":30}},"x2":{"field":"t1"},"y":{"field":"d0","type":"quantitative","scale":{"domain":[0,110],"nice":false},"axis":{"title":"distance (m)","values":[0,20,40,60,80,100],"labelPadding":48,"titlePadding":28}},"y2":{"field":"d1"},"color":{"field":"v","type":"quantitative","scale":{"domain":[0,0.5,1.5,2.5,3.5,4],"range":["#800000","#ff0000","#ffff00","#00ffff","#0000ff","#000080"],"interpolate":"rgb"},"legend":{"legendX":1155,"legendY":0,"gradientLength":885,"values":[0,1,2,3,4],"format":"~g","labelOffset":34,"encoding":{"labels":{"baseline":{"value":"middle"}}}}}}}
],"bounds":"flush","spacing":0,"resolve":{"scale":{"color":"independent"},"legend":{"color":"independent"}}},
{"hconcat":[
{"width":307,"height":883,"data":{"values":[]},"mark":"rule","encoding":{}},
{"width":1154,"height":883,"title":{"text":"(c)","offset":49,"dx":-27},"data":{"name":"c"},"mark":{"type":"rule","strokeWidth":4,"clip":true},"encoding":{"x":{"field":"t0","type":"quantitative","scale":{"domain":[0,300],"nice":false},"axis":{"title":"time (s)","values":[0,100,200,300],"labelPadding":55,"titlePadding":30}},"x2":{"field":"t1"},"y":{"field":"d0","type":"quantitative","scale":{"domain":[10,110],"nice":false},"axis":{"title":"distance (m)","values":[20,40,60,80,100],"labelPadding":48,"titlePadding":33}},"y2":{"field":"d1"},"color":{"field":"v","type":"quantitative","scale":{"domain":[0,1.5,4.5,7.5,10.5,12],"range":["#800000","#ff0000","#ffff00","#00ffff","#0000ff","#000080"],"interpolate":"rgb"},"legend":{"legendX":1190,"legendY":0,"gradientLength":883,"values":[0,2,4,6,8,10,12],"format":"~g","labelOffset":34,"encoding":{"labels":{"baseline":{"value":"middle"}}}}}}},
{"width":539,"height":883,"data":{"values":[]},"mark":"rule","encoding":{}},
{"width":1155,"height":883,"title":{"text":"(d)","offset":49,"dx":-26},"data":{"name":"d"},"mark":{"type":"rule","strokeWidth":4,"clip":true},"encoding":{"x":{"field":"t0","type":"quantitative","scale":{"domain":[0,300],"nice":false},"axis":{"title":"time (s)","values":[0,100,200,300],"labelPadding":55,"titlePadding":30}},"x2":{"field":"t1"},"y":{"field":"d0","type":"quantitative","scale":{"domain":[10,110],"nice":false},"axis":{"title":"distance (m)","values":[20,40,60,80,100],"labelPadding":48,"titlePadding":29}},"y2":{"field":"d1"},"color":{"field":"v","type":"quantitative","scale":{"domain":[0,1.5,4.5,7.5,10.5,12],"range":["#800000","#ff0000","#ffff00","#00ffff","#0000ff","#000080"],"interpolate":"rgb"},"legend":{"legendX":1188,"legendY":0,"gradientLength":883,"values":[0,2,4,6,8,10,12],"format":"~g","labelOffset":34,"encoding":{"labels":{"baseline":{"value":"middle"}}}}}}}
],"bounds":"flush","spacing":0,"resolve":{"scale":{"color":"independent"},"legend":{"color":"independent"}}},
{"hconcat":[
{"width":1154,"height":886,"data":{"values":[]},"mark":"rule","encoding":{}},
{"width":1158,"height":886,"title":{"text":"(e)","offset":0,"dx":-26},"data":{"name":"e"},"mark":{"type":"rule","strokeWidth":4,"clip":true},"encoding":{"x":{"field":"t0","type":"quantitative","scale":{"domain":[0,300],"nice":false},"axis":{"title":"time (s)","values":[0,100,200,300],"labelPadding":55,"titlePadding":30}},"x2":{"field":"t1"},"y":{"field":"d0","type":"quantitative","scale":{"domain":[10,110],"nice":false},"axis":{"title":"distance (m)","values":[20,40,60,80,100],"labelPadding":48,"titlePadding":28}},"y2":{"field":"d1"},"color":{"field":"v","type":"quantitative","scale":{"domain":[0,1.5,4.5,7.5,10.5,12],"range":["#800000","#ff0000","#ffff00","#00ffff","#0000ff","#000080"],"interpolate":"rgb"},"legend":{"legendX":1191,"legendY":0,"gradientLength":886,"values":[0,2,4,6,8,10,12],"format":"~g","labelOffset":34,"encoding":{"labels":{"baseline":{"value":"middle"}}}}}}}
],"bounds":"flush","spacing":0,"resolve":{"scale":{"color":"independent"},"legend":{"color":"independent"}}}
]}
